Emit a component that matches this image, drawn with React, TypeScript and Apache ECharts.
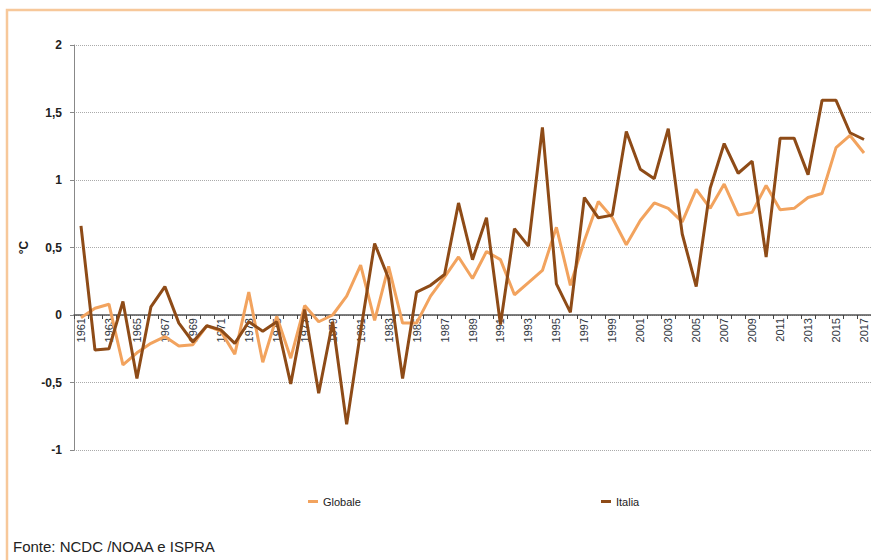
import React, { useEffect, useRef } from "react";
import * as echarts from "echarts";

const years: string[] = [];
for (let y = 1961; y <= 2017; y++) years.push(String(y));

const globale = [
  -0.02, 0.05, 0.08, -0.37, -0.28, -0.21, -0.16, -0.23, -0.22, -0.08,
  -0.12, -0.29, 0.17, -0.35, -0.01, -0.32, 0.07, -0.05, 0.0, 0.14,
  0.37, -0.04, 0.36, -0.06, -0.06, 0.14, 0.28, 0.43, 0.27, 0.47,
  0.41, 0.15, 0.24, 0.33, 0.65, 0.22, 0.55, 0.84, 0.72, 0.52,
  0.7, 0.83, 0.79, 0.69, 0.93, 0.79, 0.97, 0.74, 0.76, 0.96,
  0.78, 0.79, 0.87, 0.9, 1.24, 1.33, 1.2,
];

const italia = [
  0.66, -0.26, -0.25, 0.1, -0.47, 0.06, 0.21, -0.06, -0.2, -0.08,
  -0.11, -0.21, -0.05, -0.12, -0.05, -0.51, 0.04, -0.58, -0.05, -0.81,
  -0.12, 0.53, 0.27, -0.47, 0.17, 0.22, 0.3, 0.83, 0.41, 0.72,
  -0.07, 0.64, 0.51, 1.39, 0.23, 0.02, 0.87, 0.72, 0.74, 1.36,
  1.08, 1.01, 1.38, 0.6, 0.21, 0.94, 1.27, 1.05, 1.14, 0.43,
  1.31, 1.31, 1.04, 1.59, 1.59, 1.35, 1.3,
];

const FONT = "'Liberation Sans', Arial, sans-serif";
const C_GLOB = "#F2A35E";
const C_ITA = "#8E4B17";

export default function App() {
  const ref = useRef<HTMLDivElement>(null);
  useEffect(() => {
    if (!ref.current) return;
    const chart = echarts.init(ref.current, undefined, { renderer: "svg" });
    const legendCommon = {
      top: 491,
      itemWidth: 10,
      itemHeight: 3,
      itemTextGap: 1,
      itemStyle: { borderWidth: 0 },
      textStyle: { fontSize: 11, color: "#222", fontFamily: FONT },
    };
    chart.setOption({
      animation: false,
      backgroundColor: "#ffffff",
      textStyle: { fontFamily: FONT },
      graphic: [
        {
          type: "rect",
          shape: { x: 7, y: 10, width: 900, height: 600 },
          style: { fill: "none", stroke: "#F7C89A", lineWidth: 2.5 },
          z: 0,
        },
        {
          type: "text",
          left: 13,
          top: 539,
          style: {
            text: "Fonte: NCDC /NOAA e ISPRA",
            fontSize: 15,
            fontFamily: FONT,
            fill: "#222222",
          },
        },
      ],
      legend: [
        { ...legendCommon, left: 303, data: [{ name: "Globale", icon: "rect" }] },
        { ...legendCommon, left: 596, data: [{ name: "Italia", icon: "rect" }] },
      ],
      grid: { left: 74, top: 45, width: 798, height: 405 },
      xAxis: {
        type: "category",
        data: years,
        boundaryGap: true,
        position: "bottom",
        offset: -135,
        axisLine: { onZero: false, lineStyle: { color: "#555", width: 1.5 } },
        axisTick: { show: true, interval: 0, length: 4, lineStyle: { color: "#444" } },
        axisLabel: {
          interval: 1,
          rotate: 90,
          margin: 3,
          fontSize: 11,
          color: "#2f3640",
          fontFamily: FONT,
        },
        splitLine: { show: false },
      },
      yAxis: {
        type: "value",
        min: -1,
        max: 2,
        interval: 0.5,
        name: "°C",
        nameLocation: "middle",
        nameGap: 32,
        nameRotate: 90,
        nameTextStyle: { fontSize: 12, fontWeight: "bold", color: "#222", fontFamily: FONT },
        axisLine: { show: true, lineStyle: { color: "#888", width: 1 } },
        axisTick: { show: true, length: 4, lineStyle: { color: "#888" } },
        axisLabel: {
          margin: 12,
          fontSize: 12,
          fontWeight: "bold",
          color: "#222",
          fontFamily: FONT,
          formatter: (v: number) => String(v).replace(".", ","),
        },
        splitLine: { show: true, lineStyle: { color: "#aaa", type: "dotted", width: 1 } },
      },
      series: [
        {
          name: "Globale",
          type: "line",
          data: globale,
          showSymbol: false,
          symbol: "none",
          lineStyle: { color: C_GLOB, width: 3 },
          itemStyle: { color: C_GLOB },
        },
        {
          name: "Italia",
          type: "line",
          data: italia,
          showSymbol: false,
          symbol: "none",
          lineStyle: { color: C_ITA, width: 3 },
          itemStyle: { color: C_ITA },
        },
      ],
    });
    return () => chart.dispose();
  }, []);
  return (
    <div
      ref={ref}
      style={{ position: "fixed", left: 0, top: 0, width: 871, height: 560 }}
    />
  );
}
